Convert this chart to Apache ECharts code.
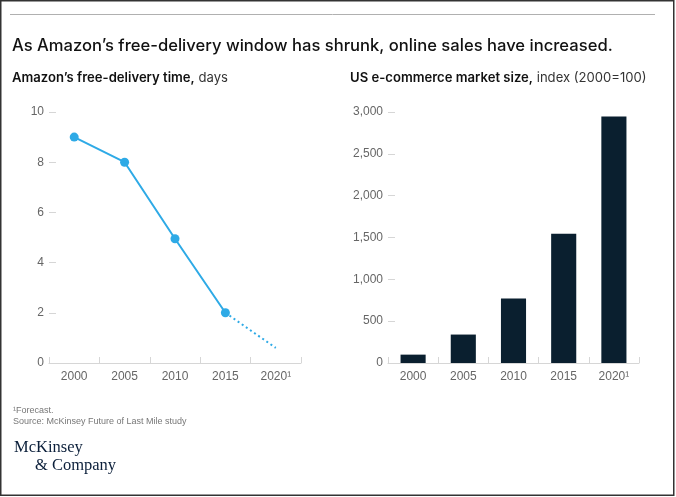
<!DOCTYPE html>
<html>
<head>
<meta charset="utf-8">
<script src="https://cdn.jsdelivr.net/npm/echarts@6/dist/echarts.min.js"></script>
<style>
  html, body { margin: 0; padding: 0; background: #fff; }
  #main { width: 676px; height: 497px; }
</style>
</head>
<body>
<div id="main"></div>
<script>
var years = ['2000', '2005', '2010', '2015', '2020¹'];
// free-delivery time, days (2020 is a forecast)
var deliveryDays = [9, 8, 4.95, 2, '-'];
var deliveryForecast = ['-', '-', '-', 2, 0.6];
// US e-commerce market size, index 2000=100
var marketIndex = [100, 340, 770, 1545, 2945];

var chartDom = document.getElementById('main');
var myChart = echarts.init(chartDom);

var lineBlue = '#2EAAE6';
var navy = '#0A1F2F';
var tickGray = '#d6d6d6';
var labelGray = '#666';
var font = '"Liberation Sans", Arial, sans-serif';
var serif = '"Liberation Serif", "DejaVu Serif", serif';

function xAxisCfg(idx) {
    return {
        type: 'category',
        gridIndex: idx,
        data: years,
        boundaryGap: true,
        axisLine: { lineStyle: { color: tickGray, width: 1 } },
        axisTick: { show: true, inside: true, length: 6, lineStyle: { color: tickGray } },
        axisLabel: { color: labelGray, fontSize: 12, fontFamily: font, margin: 8 }
    };
}

function yAxisCfg(idx, max, interval, fmt) {
    return {
        type: 'value',
        gridIndex: idx,
        min: 0,
        max: max,
        interval: interval,
        axisLine: { show: false },
        axisTick: { show: true, inside: true, length: 7, lineStyle: { color: tickGray } },
        splitLine: { show: false },
        axisLabel: { color: labelGray, fontSize: 12, fontFamily: font, margin: 5, formatter: fmt }
    };
}

var subRich = {
    b: { fontFamily: 'Inter, sans-serif', fontSize: 13.1, fontWeight: 600, color: '#111' },
    n: { fontFamily: 'Inter, sans-serif', fontSize: 13.1, fontWeight: 400, color: '#333' }
};

var option = {
    backgroundColor: '#fff',
    animation: false,
    title: [{
        text: 'As Amazon’s free-delivery window has shrunk, online sales have increased.',
        left: 12, top: 37, padding: 0,
        textStyle: { fontFamily: 'Inter, "Noto Sans", sans-serif', fontSize: 16.6, fontWeight: 500, color: '#111' }
    }, {
        text: '{b|Amazon’s free-delivery time,}{n| days}',
        left: 12, top: 72, padding: 0,
        textStyle: { rich: subRich }
    }, {
        text: '{b|US e-commerce market size,}{n| index (2000=100)}',
        left: 350, top: 72, padding: 0,
        textStyle: { rich: subRich }
    }],
    grid: [
        { left: 49, top: 112, width: 252, height: 251, containLabel: false },
        { left: 388, top: 112, width: 251, height: 251, containLabel: false }
    ],
    xAxis: [xAxisCfg(0), xAxisCfg(1)],
    yAxis: [
        yAxisCfg(0, 10, 2),
        yAxisCfg(1, 3000, 500, function (v) { return v.toLocaleString('en-US'); })
    ],
    series: [{
        name: 'days',
        type: 'line',
        xAxisIndex: 0, yAxisIndex: 0,
        data: deliveryDays,
        symbol: 'circle',
        symbolSize: 9,
        itemStyle: { color: lineBlue },
        lineStyle: { color: lineBlue, width: 2 }
    }, {
        name: 'forecast',
        type: 'line',
        xAxisIndex: 0, yAxisIndex: 0,
        data: deliveryForecast,
        showSymbol: false,
        symbol: 'none',
        lineStyle: { color: lineBlue, width: 2, type: [2, 3] }
    }, {
        name: 'index',
        type: 'bar',
        xAxisIndex: 1, yAxisIndex: 1,
        data: marketIndex,
        barWidth: '50%',
        itemStyle: { color: navy }
    }],
    graphic: [{
        type: 'rect',
        shape: { x: 0.75, y: 0.75, width: 673, height: 494.5 },
        style: { fill: 'none', stroke: '#333', lineWidth: 1.5 }
    }, {
        type: 'line',
        shape: { x1: 10, y1: 14.5, x2: 655, y2: 14.5 },
        style: { stroke: '#b0b0b0', lineWidth: 1 }
    }, {
        type: 'text',
        left: 13, top: 406,
        style: { text: '¹Forecast.', fontSize: 9, fontFamily: font, fill: '#777' }
    }, {
        type: 'text',
        left: 13, top: 417,
        style: { text: 'Source: McKinsey Future of Last Mile study', fontSize: 9, fontFamily: font, fill: '#777' }
    }, {
        type: 'text',
        left: 14, top: 439,
        style: { text: 'McKinsey', fontSize: 16.5, fontFamily: serif, fill: '#0B1F3A' }
    }, {
        type: 'text',
        left: 35, top: 457,
        style: { text: '& Company', fontSize: 16.5, fontFamily: serif, fill: '#0B1F3A' }
    }]
};

option && myChart.setOption(option);
</script>
</body>
</html>
